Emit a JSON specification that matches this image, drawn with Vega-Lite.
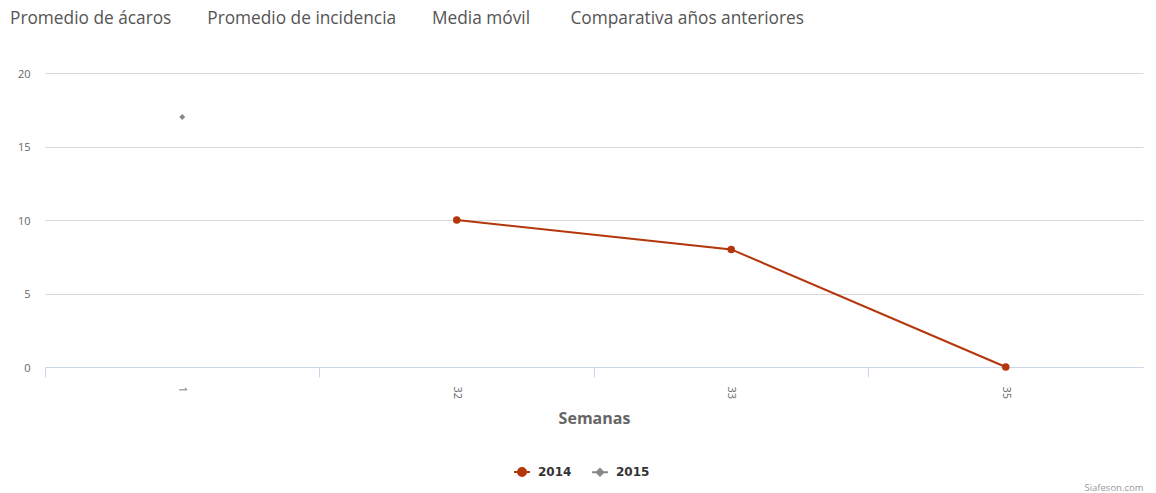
{
  "$schema": "https://vega.github.io/schema/vega-lite/v6.json",
  "width": 1098,
  "height": 294,
  "autosize": {"type": "none"},
  "padding": {"left": 45, "top": 73, "right": 13, "bottom": 126},
  "background": "white",
  "config": {"font": "Open Sans", "view": {"stroke": null}},
  "title": {
    "text": "Promedio de ácaros\u00a0\u00a0\u00a0\u00a0\u00a0\u00a0\u00a0\u00a0Promedio de incidencia\u00a0\u00a0\u00a0\u00a0\u00a0\u00a0\u00a0\u00a0Media móvil\u00a0\u00a0\u00a0\u00a0\u00a0\u00a0\u00a0\u00a0\u00a0Comparativa años anteriores",
    "anchor": "start",
    "frame": "group",
    "dx": -35,
    "offset": 41,
    "fontSize": 17.3,
    "fontWeight": "normal",
    "color": "#555555",
    "font": "Open Sans"
  },
  "data": {
    "values": [
      {"semana": "32", "serie": "2014", "valor": 10},
      {"semana": "33", "serie": "2014", "valor": 8},
      {"semana": "35", "serie": "2014", "valor": 0},
      {"semana": "1", "serie": "2015", "valor": 17}
    ]
  },
  "layer": [
    {
      "mark": {"type": "line", "strokeWidth": 2},
      "encoding": {
        "x": {
          "field": "semana", "type": "ordinal", "sort": ["1", "32", "33", "35"],
          "scale": {"type": "band", "paddingInner": 0, "paddingOuter": 0},
          "axis": {
            "orient": "bottom", "bandPosition": 0, "labels": false, "grid": false,
            "ticks": true, "tickSize": 10, "tickColor": "#ccd6eb", "domainColor": "#ccd6eb",
            "title": "Siafeson.com", "titleAnchor": "end", "titleFontSize": 9.5,
            "titleColor": "#999999", "titleFontWeight": "normal", "titlePadding": 105,
            "titleFont": "Open Sans"
          }
        },
        "y": {
          "field": "valor", "type": "quantitative",
          "scale": {"domain": [0, 20], "nice": false},
          "axis": {
            "values": [0, 5, 10, 15, 20], "grid": true, "gridColor": "#d8d8d8",
            "domain": false, "ticks": false, "labelPadding": 15, "labelFontSize": 11,
            "labelColor": "#666666", "title": null, "labelOffset": 1
          }
        },
        "color": {
          "field": "serie", "type": "nominal",
          "scale": {"domain": ["2014", "2015"], "range": ["#b5360b", "#888888"]},
          "legend": {
            "orient": "none", "legendX": 468, "legendY": 390, "direction": "horizontal", "title": null,
            "symbolSize": 256, "symbolStrokeWidth": 2, "labelFontSize": 12,
            "labelFont": "DejaVu Sans",
            "labelFontWeight": "bold", "labelColor": "#333333", "labelOffset": 7,
            "columnPadding": 16, "symbolOpacity": 1
          }
        }
      }
    },
    {
      "transform": [{"filter": "datum.serie == '2014'"}],
      "mark": {"type": "point", "filled": true, "opacity": 1, "shape": "circle", "size": 56},
      "encoding": {
        "x": {
          "field": "semana", "type": "ordinal", "sort": ["1", "32", "33", "35"],
          "scale": {"type": "band", "paddingInner": 0, "paddingOuter": 0},
          "axis": {
            "orient": "bottom", "bandPosition": 0.5, "ticks": false, "domain": false,
            "grid": false, "labelAngle": 90, "labelPadding": 19, "labelFontSize": 11,
            "labelColor": "#666666", "title": "Semanas", "titleFontSize": 16,
            "titleFontWeight": "bold", "titleColor": "#666666", "titlePadding": 12
          }
        },
        "y": {
          "field": "valor", "type": "quantitative",
          "scale": {"domain": [0, 20], "nice": false},
          "axis": {
            "values": [0, 5, 10, 15, 20], "grid": true, "gridColor": "#d8d8d8",
            "domain": false, "ticks": false, "labelPadding": 15, "labelFontSize": 11,
            "labelColor": "#666666", "title": null, "labelOffset": 1
          }
        },
        "color": {"field": "serie", "type": "nominal"}
      }
    },
    {
      "transform": [{"filter": "datum.serie == '2015'"}],
      "mark": {"type": "point", "filled": true, "opacity": 1, "shape": "diamond", "size": 36},
      "encoding": {
        "x": {
          "field": "semana", "type": "ordinal", "sort": ["1", "32", "33", "35"],
          "scale": {"type": "band", "paddingInner": 0, "paddingOuter": 0},
          "axis": null
        },
        "y": {
          "field": "valor", "type": "quantitative",
          "scale": {"domain": [0, 20], "nice": false},
          "axis": {
            "values": [0, 5, 10, 15, 20], "grid": true, "gridColor": "#d8d8d8",
            "domain": false, "ticks": false, "labelPadding": 15, "labelFontSize": 11,
            "labelColor": "#666666", "title": null, "labelOffset": 1
          }
        },
        "color": {"field": "serie", "type": "nominal"}
      }
    },
    {
      "mark": {"type": "point", "filled": true, "opacity": 0, "strokeWidth": 2},
      "encoding": {
        "x": {
          "field": "semana", "type": "ordinal", "sort": ["1", "32", "33", "35"],
          "scale": {"type": "band", "paddingInner": 0, "paddingOuter": 0},
          "axis": null
        },
        "y": {
          "field": "valor", "type": "quantitative",
          "scale": {"domain": [0, 20], "nice": false},
          "axis": {
            "values": [0, 5, 10, 15, 20], "grid": true, "gridColor": "#d8d8d8",
            "domain": false, "ticks": false, "labelPadding": 15, "labelFontSize": 11,
            "labelColor": "#666666", "title": null, "labelOffset": 1
          }
        },
        "color": {"field": "serie", "type": "nominal"},
        "stroke": {
          "field": "serie", "type": "nominal",
          "scale": {"domain": ["2014", "2015"], "range": ["#b5360b", "#888888"]},
          "legend": {
            "orient": "none", "legendX": 468, "legendY": 390, "direction": "horizontal", "title": null,
            "symbolSize": 256, "symbolStrokeWidth": 2, "labelFontSize": 12,
            "labelFont": "DejaVu Sans",
            "labelFontWeight": "bold", "labelColor": "#333333", "labelOffset": 7,
            "columnPadding": 16, "symbolOpacity": 1
          }
        },
        "shape": {
          "field": "serie", "type": "nominal",
          "scale": {"domain": ["2014", "2015"], "range": ["M-1,0L1,0M-0.5,0A0.5,0.5,0,1,0,0.5,0A0.5,0.5,0,1,0,-0.5,0Z", "M-1,0L1,0M0,-0.42L0.42,0L0,0.42L-0.42,0Z"]},
          "legend": {
            "orient": "none", "legendX": 468, "legendY": 390, "direction": "horizontal", "title": null,
            "symbolSize": 256, "symbolStrokeWidth": 2, "labelFontSize": 12,
            "labelFont": "DejaVu Sans",
            "labelFontWeight": "bold", "labelColor": "#333333", "labelOffset": 7,
            "columnPadding": 16, "symbolOpacity": 1
          }
        }
      }
    }
  ],
  "resolve": {"axis": {"x": "independent"}}
}
